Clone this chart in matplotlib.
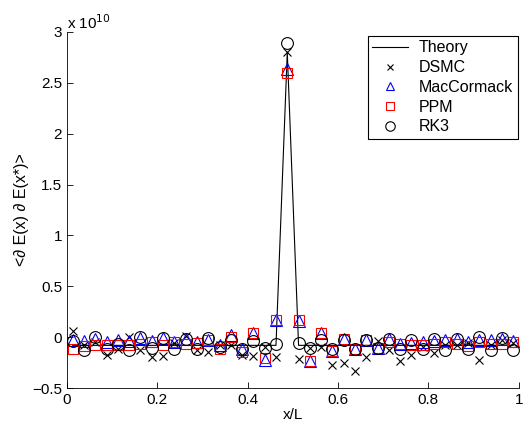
import matplotlib as mpl
mpl.use('Agg')
import matplotlib.pyplot as plt
import numpy as np

plt.rcParams['font.family'] = ['Liberation Sans', 'DejaVu Sans']
plt.rcParams['font.size'] = 11

# cell centres, 40 cells
x = np.arange(40) * 0.025 + 0.0125

# values in units of 1e10
theory = [-0.08] * 19 + [2.80] + [-0.08] * 20

dsmc = [0.06, -0.08, -0.05, -0.17, -0.12, 0.00, -0.13, -0.19, -0.18, -0.06,
        0.01, -0.13, -0.15, -0.08, -0.08, -0.17, -0.18, -0.10, -0.19, 2.80,
        -0.21, -0.11, -0.10, -0.27, -0.25, -0.33, -0.19, -0.04, -0.13, -0.23,
        -0.17, -0.10, -0.16, -0.08, -0.08, -0.06, -0.22, -0.08, -0.03, -0.06]

maccormack = [-0.03, -0.04, -0.02, -0.05, -0.03, -0.04, -0.01, -0.04, -0.01, -0.05,
              -0.02, -0.05, -0.03, -0.08, 0.02, -0.12, 0.04, -0.22, 0.17, 2.64,
              0.16, -0.23, 0.04, -0.14, -0.02, -0.12, -0.03, -0.11, -0.02, -0.07,
              -0.06, -0.05, -0.04, -0.03, -0.02, -0.05, -0.03, -0.03, -0.02, -0.04]

ppm = [-0.12, -0.09, -0.08, -0.08, -0.08, -0.08, -0.07, -0.05, -0.08, -0.05,
       -0.07, -0.06, -0.03, -0.12, 0.00, -0.15, 0.04, -0.20, 0.17, 2.60,
       0.17, -0.23, 0.04, -0.14, -0.02, -0.12, -0.03, -0.11, -0.05, -0.07,
       -0.08, -0.08, -0.07, -0.05, -0.07, -0.09, -0.05, -0.07, -0.07, -0.05]

rk3 = [-0.04, -0.13, 0.00, -0.12, -0.07, -0.13, 0.00, -0.11, -0.01, -0.12,
       -0.02, -0.12, -0.01, -0.10, -0.03, -0.12, -0.04, -0.11, -0.07, 2.89,
       -0.06, -0.11, -0.03, -0.12, -0.03, -0.12, -0.03, -0.11, -0.02, -0.12,
       -0.03, -0.12, -0.02, -0.13, -0.02, -0.12, 0.00, -0.13, -0.01, -0.13]

fig = plt.figure(figsize=(5.24, 4.26), dpi=100)
ax = fig.add_axes([0.128, 0.089, 0.862, 0.836])

ax.plot(x, theory, color='black', lw=0.8, label='Theory')
ax.plot(x, dsmc, 'x', color='black', ms=6, mew=0.8, label='DSMC')
ax.plot(x, maccormack, '^', color='blue', mfc='none', ms=8, mew=0.8, label='MacCormack')
ax.plot(x, ppm, 's', color='red', mfc='none', ms=6.5, mew=0.8, label='PPM')
ax.plot(x, rk3, 'o', color='black', mfc='none', ms=8.5, mew=0.8, label='RK3')

ax.set_xlim(0, 1)
ax.set_ylim(-0.5, 3)
ax.set_xticks([0, 0.2, 0.4, 0.6, 0.8, 1])
ax.set_xticklabels(['0', '0.2', '0.4', '0.6', '0.8', '1'])
ax.set_yticks([-0.5, 0, 0.5, 1, 1.5, 2, 2.5, 3])
ax.set_yticklabels(['\u22120.5', '0', '0.5', '1', '1.5', '2', '2.5', '3'])
ax.tick_params(direction='in', length=4, width=0.6)
ax.spines['top'].set_visible(False)
ax.spines['right'].set_visible(False)
for s in ax.spines.values():
    s.set_linewidth(0.6)

ax.text(0.0, 1.0, r'x 10$^{10}$', transform=ax.transAxes, ha='left', va='bottom', fontsize=11)
ax.set_xlabel('x/L', labelpad=1)
ax.set_ylabel('<\u2202 E(x) \u2202 E(x*)>', labelpad=2, fontsize=11.5)

leg = ax.legend(loc='upper right', bbox_to_anchor=(0.998, 0.99), borderaxespad=0,
                fancybox=False, edgecolor='black', framealpha=1, handlelength=2.2,
                borderpad=0.3, labelspacing=0.3, handletextpad=0.7, fontsize=11.5,
                markerscale=0.8)
leg.get_frame().set_linewidth(0.8)

fig.savefig('out.png', dpi=100)
